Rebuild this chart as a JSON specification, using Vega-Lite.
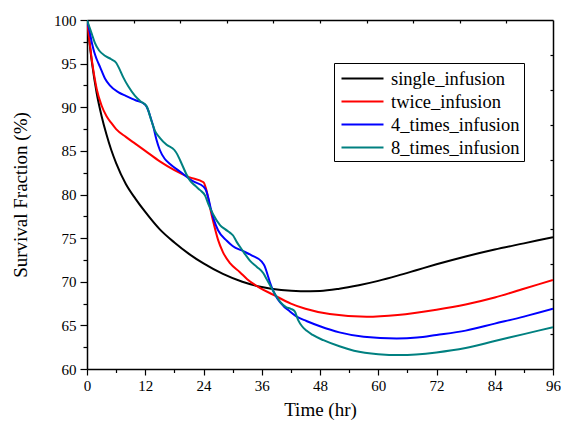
{
  "$schema": "https://vega.github.io/schema/vega-lite/v6.json",
  "width": 466,
  "height": 349,
  "autosize": {"type": "none"},
  "padding": {"left": 87, "top": 20, "right": 8, "bottom": 55},
  "background": "white",
  "config": {
    "view": {"stroke": null},
    "font": "Liberation Serif",
    "axis": {
      "domainColor": "black",
      "domainWidth": 1.5,
      "tickColor": "black",
      "tickWidth": 1.2,
      "grid": false,
      "labelFont": "Liberation Serif",
      "titleFont": "Liberation Serif",
      "labelColor": "black",
      "titleColor": "black",
      "labelFontSize": 15,
      "titleFontSize": 19,
      "titleFontWeight": "normal"
    }
  },
  "data": {
    "values": [
      {"t": 0, "v": 100, "s": "single_infusion"},
      {"t": 1, "v": 95.2, "s": "single_infusion"},
      {"t": 2, "v": 91.6, "s": "single_infusion"},
      {"t": 3, "v": 89.0, "s": "single_infusion"},
      {"t": 4, "v": 86.9, "s": "single_infusion"},
      {"t": 5, "v": 85.1, "s": "single_infusion"},
      {"t": 6, "v": 83.6, "s": "single_infusion"},
      {"t": 8, "v": 81.2, "s": "single_infusion"},
      {"t": 10, "v": 79.5, "s": "single_infusion"},
      {"t": 12, "v": 78.0, "s": "single_infusion"},
      {"t": 15, "v": 76.0, "s": "single_infusion"},
      {"t": 18, "v": 74.5, "s": "single_infusion"},
      {"t": 21, "v": 73.2, "s": "single_infusion"},
      {"t": 24, "v": 72.1, "s": "single_infusion"},
      {"t": 28, "v": 70.9, "s": "single_infusion"},
      {"t": 32, "v": 70.0, "s": "single_infusion"},
      {"t": 36, "v": 69.4, "s": "single_infusion"},
      {"t": 40, "v": 69.05, "s": "single_infusion"},
      {"t": 44, "v": 68.92, "s": "single_infusion"},
      {"t": 48, "v": 68.95, "s": "single_infusion"},
      {"t": 52, "v": 69.2, "s": "single_infusion"},
      {"t": 56, "v": 69.6, "s": "single_infusion"},
      {"t": 60, "v": 70.1, "s": "single_infusion"},
      {"t": 64, "v": 70.7, "s": "single_infusion"},
      {"t": 68, "v": 71.35, "s": "single_infusion"},
      {"t": 72, "v": 72.0, "s": "single_infusion"},
      {"t": 78, "v": 72.9, "s": "single_infusion"},
      {"t": 84, "v": 73.7, "s": "single_infusion"},
      {"t": 90, "v": 74.4, "s": "single_infusion"},
      {"t": 96, "v": 75.1, "s": "single_infusion"},

      {"t": 0, "v": 100, "s": "twice_infusion"},
      {"t": 0.5, "v": 97.6, "s": "twice_infusion"},
      {"t": 1, "v": 95.4, "s": "twice_infusion"},
      {"t": 1.5, "v": 93.6, "s": "twice_infusion"},
      {"t": 2, "v": 92.1, "s": "twice_infusion"},
      {"t": 3, "v": 90.2, "s": "twice_infusion"},
      {"t": 4, "v": 89.0, "s": "twice_infusion"},
      {"t": 5, "v": 88.2, "s": "twice_infusion"},
      {"t": 6, "v": 87.5, "s": "twice_infusion"},
      {"t": 8, "v": 86.6, "s": "twice_infusion"},
      {"t": 10, "v": 85.8, "s": "twice_infusion"},
      {"t": 12, "v": 85.0, "s": "twice_infusion"},
      {"t": 15, "v": 83.8, "s": "twice_infusion"},
      {"t": 18, "v": 82.8, "s": "twice_infusion"},
      {"t": 21, "v": 82.0, "s": "twice_infusion"},
      {"t": 24, "v": 81.4, "s": "twice_infusion"},
      {"t": 24.5, "v": 80.7, "s": "twice_infusion"},
      {"t": 25, "v": 79.5, "s": "twice_infusion"},
      {"t": 25.5, "v": 78.1, "s": "twice_infusion"},
      {"t": 26, "v": 76.9, "s": "twice_infusion"},
      {"t": 27, "v": 74.8, "s": "twice_infusion"},
      {"t": 28, "v": 73.4, "s": "twice_infusion"},
      {"t": 29.5, "v": 72.1, "s": "twice_infusion"},
      {"t": 31.5, "v": 71.1, "s": "twice_infusion"},
      {"t": 33, "v": 70.3, "s": "twice_infusion"},
      {"t": 35.6, "v": 69.3, "s": "twice_infusion"},
      {"t": 38.4, "v": 68.5, "s": "twice_infusion"},
      {"t": 42, "v": 67.5, "s": "twice_infusion"},
      {"t": 45, "v": 66.9, "s": "twice_infusion"},
      {"t": 50, "v": 66.3, "s": "twice_infusion"},
      {"t": 57.6, "v": 66.0, "s": "twice_infusion"},
      {"t": 64, "v": 66.2, "s": "twice_infusion"},
      {"t": 72, "v": 66.8, "s": "twice_infusion"},
      {"t": 78, "v": 67.4, "s": "twice_infusion"},
      {"t": 84, "v": 68.2, "s": "twice_infusion"},
      {"t": 90, "v": 69.2, "s": "twice_infusion"},
      {"t": 96, "v": 70.2, "s": "twice_infusion"},

      {"t": 0, "v": 100, "s": "4_times_infusion"},
      {"t": 0.5, "v": 98.8, "s": "4_times_infusion"},
      {"t": 1, "v": 97.4, "s": "4_times_infusion"},
      {"t": 1.5, "v": 96.3, "s": "4_times_infusion"},
      {"t": 2, "v": 95.5, "s": "4_times_infusion"},
      {"t": 2.7, "v": 94.6, "s": "4_times_infusion"},
      {"t": 3.7, "v": 93.3, "s": "4_times_infusion"},
      {"t": 4.7, "v": 92.5, "s": "4_times_infusion"},
      {"t": 6.5, "v": 91.7, "s": "4_times_infusion"},
      {"t": 8, "v": 91.3, "s": "4_times_infusion"},
      {"t": 10, "v": 90.8, "s": "4_times_infusion"},
      {"t": 12, "v": 90.3, "s": "4_times_infusion"},
      {"t": 12.5, "v": 89.8, "s": "4_times_infusion"},
      {"t": 13, "v": 89.0, "s": "4_times_infusion"},
      {"t": 13.7, "v": 87.7, "s": "4_times_infusion"},
      {"t": 14.3, "v": 86.3, "s": "4_times_infusion"},
      {"t": 15, "v": 85.1, "s": "4_times_infusion"},
      {"t": 16, "v": 84.1, "s": "4_times_infusion"},
      {"t": 17.1, "v": 83.5, "s": "4_times_infusion"},
      {"t": 19.2, "v": 82.6, "s": "4_times_infusion"},
      {"t": 21.9, "v": 81.5, "s": "4_times_infusion"},
      {"t": 24, "v": 80.9, "s": "4_times_infusion"},
      {"t": 24.5, "v": 80.5, "s": "4_times_infusion"},
      {"t": 25, "v": 79.6, "s": "4_times_infusion"},
      {"t": 25.5, "v": 78.4, "s": "4_times_infusion"},
      {"t": 26.2, "v": 77.0, "s": "4_times_infusion"},
      {"t": 27, "v": 75.9, "s": "4_times_infusion"},
      {"t": 28.8, "v": 74.7, "s": "4_times_infusion"},
      {"t": 30, "v": 74.1, "s": "4_times_infusion"},
      {"t": 32.2, "v": 73.5, "s": "4_times_infusion"},
      {"t": 34, "v": 73.0, "s": "4_times_infusion"},
      {"t": 36, "v": 72.3, "s": "4_times_infusion"},
      {"t": 36.6, "v": 71.8, "s": "4_times_infusion"},
      {"t": 37.2, "v": 70.8, "s": "4_times_infusion"},
      {"t": 37.7, "v": 69.9, "s": "4_times_infusion"},
      {"t": 38.5, "v": 68.8, "s": "4_times_infusion"},
      {"t": 39.3, "v": 68.0, "s": "4_times_infusion"},
      {"t": 40.5, "v": 67.2, "s": "4_times_infusion"},
      {"t": 41.8, "v": 66.6, "s": "4_times_infusion"},
      {"t": 43.2, "v": 66.0, "s": "4_times_infusion"},
      {"t": 45.2, "v": 65.5, "s": "4_times_infusion"},
      {"t": 48, "v": 64.9, "s": "4_times_infusion"},
      {"t": 52, "v": 64.2, "s": "4_times_infusion"},
      {"t": 57, "v": 63.7, "s": "4_times_infusion"},
      {"t": 63.8, "v": 63.5, "s": "4_times_infusion"},
      {"t": 68, "v": 63.6, "s": "4_times_infusion"},
      {"t": 72, "v": 63.9, "s": "4_times_infusion"},
      {"t": 78, "v": 64.4, "s": "4_times_infusion"},
      {"t": 84, "v": 65.2, "s": "4_times_infusion"},
      {"t": 90, "v": 66.0, "s": "4_times_infusion"},
      {"t": 96, "v": 66.9, "s": "4_times_infusion"},

      {"t": 0, "v": 100, "s": "8_times_infusion"},
      {"t": 0.5, "v": 99.2, "s": "8_times_infusion"},
      {"t": 1, "v": 98.4, "s": "8_times_infusion"},
      {"t": 1.6, "v": 97.4, "s": "8_times_infusion"},
      {"t": 2.5, "v": 96.5, "s": "8_times_infusion"},
      {"t": 3.7, "v": 95.9, "s": "8_times_infusion"},
      {"t": 5, "v": 95.5, "s": "8_times_infusion"},
      {"t": 6, "v": 95.1, "s": "8_times_infusion"},
      {"t": 6.5, "v": 94.6, "s": "8_times_infusion"},
      {"t": 7.5, "v": 93.4, "s": "8_times_infusion"},
      {"t": 8.5, "v": 92.4, "s": "8_times_infusion"},
      {"t": 9.9, "v": 91.3, "s": "8_times_infusion"},
      {"t": 11, "v": 90.7, "s": "8_times_infusion"},
      {"t": 12.3, "v": 90.1, "s": "8_times_infusion"},
      {"t": 13.3, "v": 88.4, "s": "8_times_infusion"},
      {"t": 14, "v": 87.3, "s": "8_times_infusion"},
      {"t": 15, "v": 86.5, "s": "8_times_infusion"},
      {"t": 16.4, "v": 85.7, "s": "8_times_infusion"},
      {"t": 18, "v": 85.1, "s": "8_times_infusion"},
      {"t": 18.6, "v": 84.6, "s": "8_times_infusion"},
      {"t": 19.2, "v": 83.9, "s": "8_times_infusion"},
      {"t": 20.5, "v": 82.3, "s": "8_times_infusion"},
      {"t": 21.2, "v": 81.6, "s": "8_times_infusion"},
      {"t": 22.3, "v": 81.0, "s": "8_times_infusion"},
      {"t": 23.3, "v": 80.5, "s": "8_times_infusion"},
      {"t": 24.3, "v": 79.9, "s": "8_times_infusion"},
      {"t": 25, "v": 78.9, "s": "8_times_infusion"},
      {"t": 26, "v": 77.7, "s": "8_times_infusion"},
      {"t": 27.4, "v": 76.5, "s": "8_times_infusion"},
      {"t": 28.5, "v": 76.0, "s": "8_times_infusion"},
      {"t": 29.5, "v": 75.6, "s": "8_times_infusion"},
      {"t": 30.1, "v": 75.3, "s": "8_times_infusion"},
      {"t": 30.8, "v": 74.6, "s": "8_times_infusion"},
      {"t": 31.9, "v": 73.7, "s": "8_times_infusion"},
      {"t": 33.6, "v": 72.4, "s": "8_times_infusion"},
      {"t": 35, "v": 71.7, "s": "8_times_infusion"},
      {"t": 36.3, "v": 71.0, "s": "8_times_infusion"},
      {"t": 37, "v": 70.3, "s": "8_times_infusion"},
      {"t": 38, "v": 69.3, "s": "8_times_infusion"},
      {"t": 38.8, "v": 68.5, "s": "8_times_infusion"},
      {"t": 39.8, "v": 67.7, "s": "8_times_infusion"},
      {"t": 41, "v": 67.1, "s": "8_times_infusion"},
      {"t": 42, "v": 66.9, "s": "8_times_infusion"},
      {"t": 42.8, "v": 66.6, "s": "8_times_infusion"},
      {"t": 43.5, "v": 65.6, "s": "8_times_infusion"},
      {"t": 44.3, "v": 64.9, "s": "8_times_infusion"},
      {"t": 45.2, "v": 64.4, "s": "8_times_infusion"},
      {"t": 46.5, "v": 63.9, "s": "8_times_infusion"},
      {"t": 48.7, "v": 63.3, "s": "8_times_infusion"},
      {"t": 52, "v": 62.6, "s": "8_times_infusion"},
      {"t": 55, "v": 62.1, "s": "8_times_infusion"},
      {"t": 60, "v": 61.7, "s": "8_times_infusion"},
      {"t": 64.5, "v": 61.6, "s": "8_times_infusion"},
      {"t": 72, "v": 61.9, "s": "8_times_infusion"},
      {"t": 78, "v": 62.4, "s": "8_times_infusion"},
      {"t": 84, "v": 63.2, "s": "8_times_infusion"},
      {"t": 90, "v": 64.0, "s": "8_times_infusion"},
      {"t": 96, "v": 64.8, "s": "8_times_infusion"}
    ]
  },
  "resolve": {"axis": {"x": "independent", "y": "independent"}},
  "layer": [
    {
      "mark": {"type": "line", "interpolate": "monotone", "strokeWidth": 2, "clip": true},
      "encoding": {
        "x": {
          "field": "t", "type": "quantitative",
          "scale": {"domain": [0, 96], "nice": false, "zero": false},
          "axis": {
            "orient": "bottom",
            "title": "Time (hr)",
            "titleFontWeight": 400,
            "titleBaseline": "alphabetic",
            "titleY": 46,
            "values": [0, 6, 12, 18, 24, 30, 36, 42, 48, 54, 60, 66, 72, 78, 84, 90, 96],
            "labelExpr": "datum.value % 12 === 0 ? datum.label : ''",
            "tickSize": {"condition": {"test": "datum.value % 12 === 0", "value": 6}, "value": 3.5},
            "labelPadding": 3,
            "labelFlush": false
          }
        },
        "y": {
          "field": "v", "type": "quantitative",
          "scale": {"domain": [60, 100], "nice": false, "zero": false},
          "axis": {
            "orient": "left",
            "title": "Survival Fraction (%)",
            "titleFontWeight": 400,
            "values": [60, 62.5, 65, 67.5, 70, 72.5, 75, 77.5, 80, 82.5, 85, 87.5, 90, 92.5, 95, 97.5, 100],
            "labelExpr": "datum.value % 5 === 0 ? datum.label : ''",
            "tickSize": {"condition": {"test": "datum.value % 5 === 0", "value": 7}, "value": 4},
            "labelPadding": 4,
            "labelFlush": false,
            "titlePadding": 23
          }
        },
        "stroke": {
          "field": "s", "type": "nominal",
          "scale": {
            "domain": ["single_infusion", "twice_infusion", "4_times_infusion", "8_times_infusion"],
            "range": ["#000000", "#ff0000", "#0000ff", "#008080"]
          },
          "legend": {
            "title": null,
            "orient": "none",
            "legendX": 247,
            "legendY": 43,
            "strokeColor": "black",
            "fillColor": "white",
            "padding": 4,
            "symbolType": "M-2,0H2",
            "symbolSize": 441,
            "symbolStrokeWidth": 2,
            "symbolOffset": 13,
            "labelOffset": 17,
            "labelFont": "Liberation Serif",
            "labelFontSize": 18.5,
            "labelColor": "black",
            "rowPadding": 2,
            "labelLimit": 300
          }
        }
      }
    },
    {
      "mark": {"type": "line", "opacity": 0},
      "encoding": {
        "x": {
          "field": "t", "type": "quantitative",
          "axis": {
            "orient": "top", "title": null, "labels": false,
            "values": [9.6, 19.2, 28.8, 38.4, 48, 57.6, 67.2, 76.8, 86.4],
            "tickSize": -3
          }
        },
        "y": {
          "field": "v", "type": "quantitative",
          "axis": {
            "orient": "right", "title": null, "labels": false,
            "values": [64, 68, 72, 76, 80, 84, 88, 92, 96],
            "tickSize": -3
          }
        },
        "detail": {"field": "s"}
      }
    }
  ]
}
